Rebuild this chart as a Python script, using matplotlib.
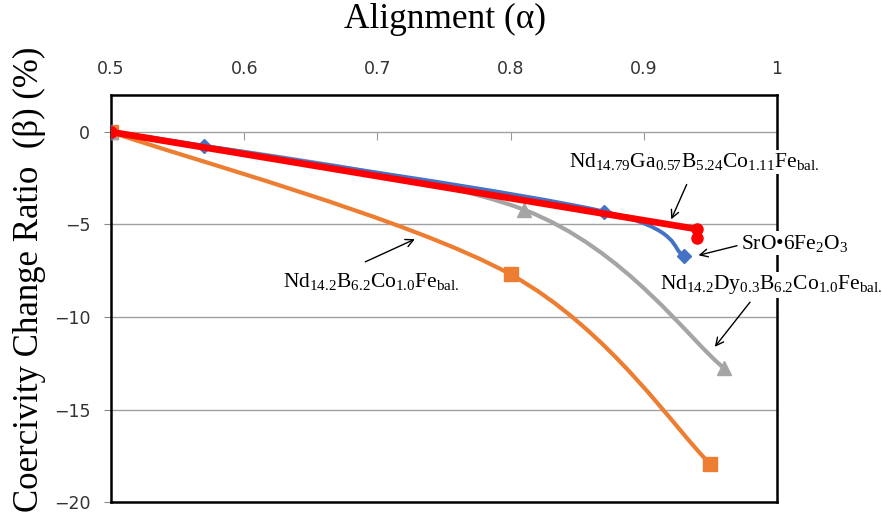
import numpy as np
import matplotlib
matplotlib.use('Agg')
import matplotlib.pyplot as plt
from matplotlib.path import Path
from matplotlib.patches import PathPatch

plt.rcParams['mathtext.fontset'] = 'custom'
plt.rcParams['mathtext.rm'] = 'Liberation Serif'
plt.rcParams['mathtext.it'] = 'Liberation Serif:italic'

# data
nd_b_x = [0.5, 0.80, 0.95]            # Nd14.2B6.2Co1.0Fe bal. (orange)
nd_b_y = [0.0, -7.7, -17.95]
nd_dy_x = [0.5, 0.81, 0.96]           # Nd14.2Dy0.3B6.2Co1.0Fe bal. (gray)
nd_dy_y = [0.0, -4.2, -12.75]
sro_x = [0.5, 0.57, 0.87, 0.93]       # SrO.6Fe2O3 (blue)
sro_y = [0.0, -0.75, -4.3, -6.7]
nd_ga_x = [0.5, 0.94, 0.94]           # Nd14.79Ga0.57B5.24Co1.11Fe bal. (red)
nd_ga_y = [0.0, -5.25, -5.75]

x_ticks = [0.5, 0.6, 0.7, 0.8, 0.9, 1.0]
x_ticklabels = ['0.5', '0.6', '0.7', '0.8', '0.9', '1']
y_ticks = [0, -5, -10, -15, -20]


def smooth_path(x, y):
    # Excel style smoothed line: cubic bezier through every point
    pts = np.column_stack([x, y])
    n = len(pts)
    verts = [pts[0]]
    codes = [Path.MOVETO]
    for i in range(n - 1):
        p0 = pts[max(i - 1, 0)]
        p1 = pts[i]
        p2 = pts[i + 1]
        p3 = pts[min(i + 2, n - 1)]
        verts += [p1 + (p2 - p0) / 6, p2 - (p3 - p1) / 6, p2]
        codes += [Path.CURVE4] * 3
    return Path(verts, codes)


fig = plt.figure(figsize=(8.82, 5.14), dpi=100)
ax = fig.add_axes([0.1259, 0.0233, 0.7551, 0.7919])
ax.set_xlim(0.5, 1.0)
ax.set_ylim(-20, 2)

for v in [0, -5, -10, -15]:
    ax.axhline(v, color='#a0a0a0', lw=1, zorder=1)

series = [
    (nd_b_x, nd_b_y, '#ED7D31', 's', 9.5, 3, True),
    (nd_dy_x, nd_dy_y, '#A5A5A5', '^', 9.5, 3, True),
    (sro_x, sro_y, '#4472C4', 'D', 7, 2.8, True),
    (nd_ga_x, nd_ga_y, '#FF0000', 'o', 8, 4.8, False),
]
z = 3
for xs, ys, col, mk, ms, lw, smooth in series:
    if smooth:
        ax.add_patch(PathPatch(smooth_path(xs, ys), facecolor='none', edgecolor=col,
                               lw=lw, capstyle='round', zorder=z))
    else:
        ax.plot(xs, ys, color=col, lw=lw, solid_capstyle='round',
                solid_joinstyle='round', zorder=z)
    ax.plot(xs, ys, linestyle='none', marker=mk, ms=ms, color=col, zorder=z + 0.5)
    z += 1

# frame
for s in ax.spines.values():
    s.set_color('black')
    s.set_linewidth(1.8)

ax.xaxis.tick_top()
ax.set_xticks(x_ticks)
ax.set_xticklabels(x_ticklabels)
ax.tick_params(axis='x', length=0, pad=12, labelsize=12.5, labelcolor='#333333')
ax.set_yticks(y_ticks)
ax.tick_params(axis='y', length=5, color='#888888', pad=10, labelsize=12.5, labelcolor='#333333')
for lab in ax.get_xticklabels() + ax.get_yticklabels():
    lab.set_fontfamily('DejaVu Sans')

# horizontal axis line crossing at zero with small tick marks
sec = ax.secondary_xaxis(20 / 22)
sec.set_xticks(x_ticks)
sec.tick_params(axis='x', direction='in', length=6, color='#999999', labelbottom=False,
                labeltop=False)
sec.spines['bottom'].set_visible(False)
sec.spines['top'].set_visible(False)

fig.text(445 / 882, 1 - 28 / 514, 'Alignment (α)', fontfamily='Liberation Serif',
         fontsize=25.5, ha='center', va='baseline')
fig.text(29 / 882, 1 - 279 / 514, 'Coercivity Change Ratio  (β) (%)',
         fontfamily='Liberation Serif', fontsize=25, rotation=90,
         ha='center', va='center')

box = dict(facecolor='white', edgecolor='none', pad=1)
tprops = dict(fontfamily='Liberation Serif', fontsize=15.5, ha='center', va='center',
              bbox=box, zorder=10, annotation_clip=False)
arrow = dict(arrowstyle='->', color='black', lw=1, mutation_scale=14)

ax.annotate(r'Nd$_{14.79}$Ga$_{0.57}$B$_{5.24}$Co$_{1.11}$Fe$_{\mathrm{bal.}}$',
            xy=(0.938, -1.62), **tprops)
ax.annotate('', xy=(0.9197, -4.86), xytext=(0.933, -2.70), arrowprops=arrow, zorder=9)

ax.annotate(r'SrO•6Fe$_2$O$_3$', xy=(1.0135, -6.0), **tprops)
ax.annotate('', xy=(0.939, -6.70), xytext=(0.972, -6.11), arrowprops=arrow, zorder=9)

ax.annotate(r'Nd$_{14.2}$Dy$_{0.3}$B$_{6.2}$Co$_{1.0}$Fe$_{\mathrm{bal.}}$',
            xy=(0.9955, -8.27), **tprops)
ax.annotate('', xy=(0.952, -11.73), xytext=(0.981, -9.08), arrowprops=arrow, zorder=9)

ax.annotate(r'Nd$_{14.2}$B$_{6.2}$Co$_{1.0}$Fe$_{\mathrm{bal.}}$',
            xy=(0.695, -8.1), **tprops)
ax.annotate('', xy=(0.730, -5.73), xytext=(0.689, -7.08), arrowprops=arrow, zorder=9)

fig.savefig('out.png', dpi=100)
